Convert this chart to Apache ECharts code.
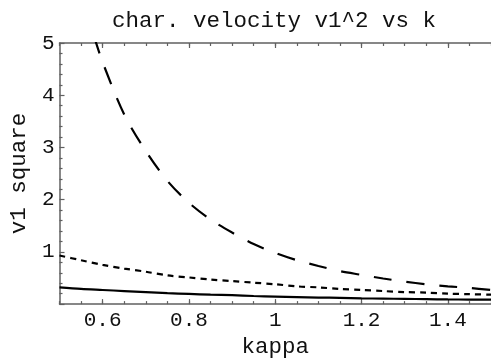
<!DOCTYPE html>
<html>
<head>
<meta charset="utf-8">
<script src="https://cdn.jsdelivr.net/npm/echarts@6/dist/echarts.min.js"></script>
<style>html,body{margin:0;padding:0;background:#fff;}#c{width:491px;height:364px;}</style>
</head>
<body>
<div id="c"></div>
<script>
// kappa sample points
var kappa = [0.50,0.55,0.60,0.65,0.70,0.75,0.80,0.85,0.90,0.95,1.00,1.05,1.10,1.15,1.20,1.25,1.30,1.35,1.40,1.45,1.50];
// solid curve
var solidV = [0.32,0.29,0.27,0.25,0.23,0.21,0.195,0.18,0.17,0.155,0.145,0.135,0.125,0.12,0.11,0.105,0.10,0.095,0.09,0.087,0.084];
// short-dashed curve
var dottedV = [0.93,0.84,0.75,0.68,0.62,0.55,0.51,0.47,0.44,0.41,0.38,0.34,0.32,0.29,0.27,0.25,0.23,0.22,0.20,0.19,0.18];
// long-dashed curve (starts just above the top)
var dashedK = [0.58,0.60,0.65,0.70,0.75,0.80,0.85,0.90,0.95,1.00,1.05,1.10,1.15,1.20,1.25,1.30,1.35,1.40,1.45,1.50];
var dashedV = [5.13,4.63,3.63,2.93,2.36,1.94,1.62,1.37,1.15,0.98,0.84,0.73,0.63,0.56,0.49,0.43,0.38,0.34,0.31,0.27];
var xTicks = [0.6,0.8,1,1.2,1.4];

function pairs(xs, ys){ return xs.map(function(x,i){ return [x, ys[i]]; }); }

var FONT = 'Liberation Mono';
var axisGray = '#606060';
var chart = echarts.init(document.getElementById('c'), null, {renderer:'canvas'});
var baseX = {
  type:'value', min:0.5, max:1.5, gridIndex:0,
  splitLine:{show:false}
};
chart.setOption({
  animation:false,
  title:{
    text:'char. velocity v1^2 vs k',
    left:112, top:10, padding:0,
    textStyle:{fontFamily:FONT, fontSize:22.5, fontWeight:'normal', color:'#111'}
  },
  grid:{left:59, right:-2, top:43, bottom:54},
  xAxis:[
    Object.assign({}, baseX, {
      position:'bottom',
      name:'kappa', nameLocation:'middle', nameGap:28,
      nameTextStyle:{fontFamily:FONT, fontSize:22.5, color:'#111'},
      axisLine:{show:true, lineStyle:{color:axisGray, width:1.5}},
      axisTick:{show:true, inside:true, length:5, customValues:xTicks, lineStyle:{color:axisGray, width:1.2}},
      axisLabel:{show:true, customValues:xTicks, margin:6, fontFamily:FONT, fontSize:21, color:'#111',
        formatter:function(v){ return String(+v.toFixed(2)); }}
    }),
    Object.assign({}, baseX, {
      position:'bottom', interval:0.05,
      axisLine:{show:false},
      axisTick:{show:true, inside:true, length:3, lineStyle:{color:axisGray, width:1.2}},
      axisLabel:{show:false}
    }),
    Object.assign({}, baseX, {
      position:'top',
      axisLine:{show:true, lineStyle:{color:axisGray, width:1.5}},
      axisTick:{show:true, inside:true, length:5, customValues:xTicks, lineStyle:{color:axisGray, width:1.2}},
      axisLabel:{show:false}
    }),
    Object.assign({}, baseX, {
      position:'top', interval:0.05,
      axisLine:{show:false},
      axisTick:{show:true, inside:true, length:3, lineStyle:{color:axisGray, width:1.2}},
      axisLabel:{show:false}
    })
  ],
  yAxis:[{
    type:'value', min:0, max:5, interval:1, position:'left',
    name:'v1 square', nameLocation:'middle', nameGap:26, nameRotate:90,
    nameTextStyle:{fontFamily:FONT, fontSize:22.5, color:'#111'},
    splitLine:{show:false},
    axisLine:{show:true, lineStyle:{color:axisGray, width:1.5}},
    axisTick:{show:true, inside:true, length:5, lineStyle:{color:axisGray, width:1.2}},
    minorTick:{show:true, splitNumber:5, length:3, lineStyle:{color:axisGray, width:1.2}},
    axisLabel:{show:true, showMinLabel:false, margin:5, fontFamily:FONT, fontSize:21, color:'#111'}
  }],
  series:[
    {type:'line', xAxisIndex:0, data:pairs(kappa, solidV), showSymbol:false, smooth:0.3,
      lineStyle:{color:'#000', width:2.2, type:'solid'}, clip:true},
    {type:'line', xAxisIndex:0, data:pairs(kappa, dottedV), showSymbol:false, smooth:0.3,
      lineStyle:{color:'#000', width:2.2, type:[6,5]}, clip:true},
    {type:'line', xAxisIndex:0, data:pairs(dashedK, dashedV), showSymbol:false, smooth:0.3,
      lineStyle:{color:'#000', width:2.2, type:[18,15]}, clip:true}
  ]
});
</script>
</body>
</html>
